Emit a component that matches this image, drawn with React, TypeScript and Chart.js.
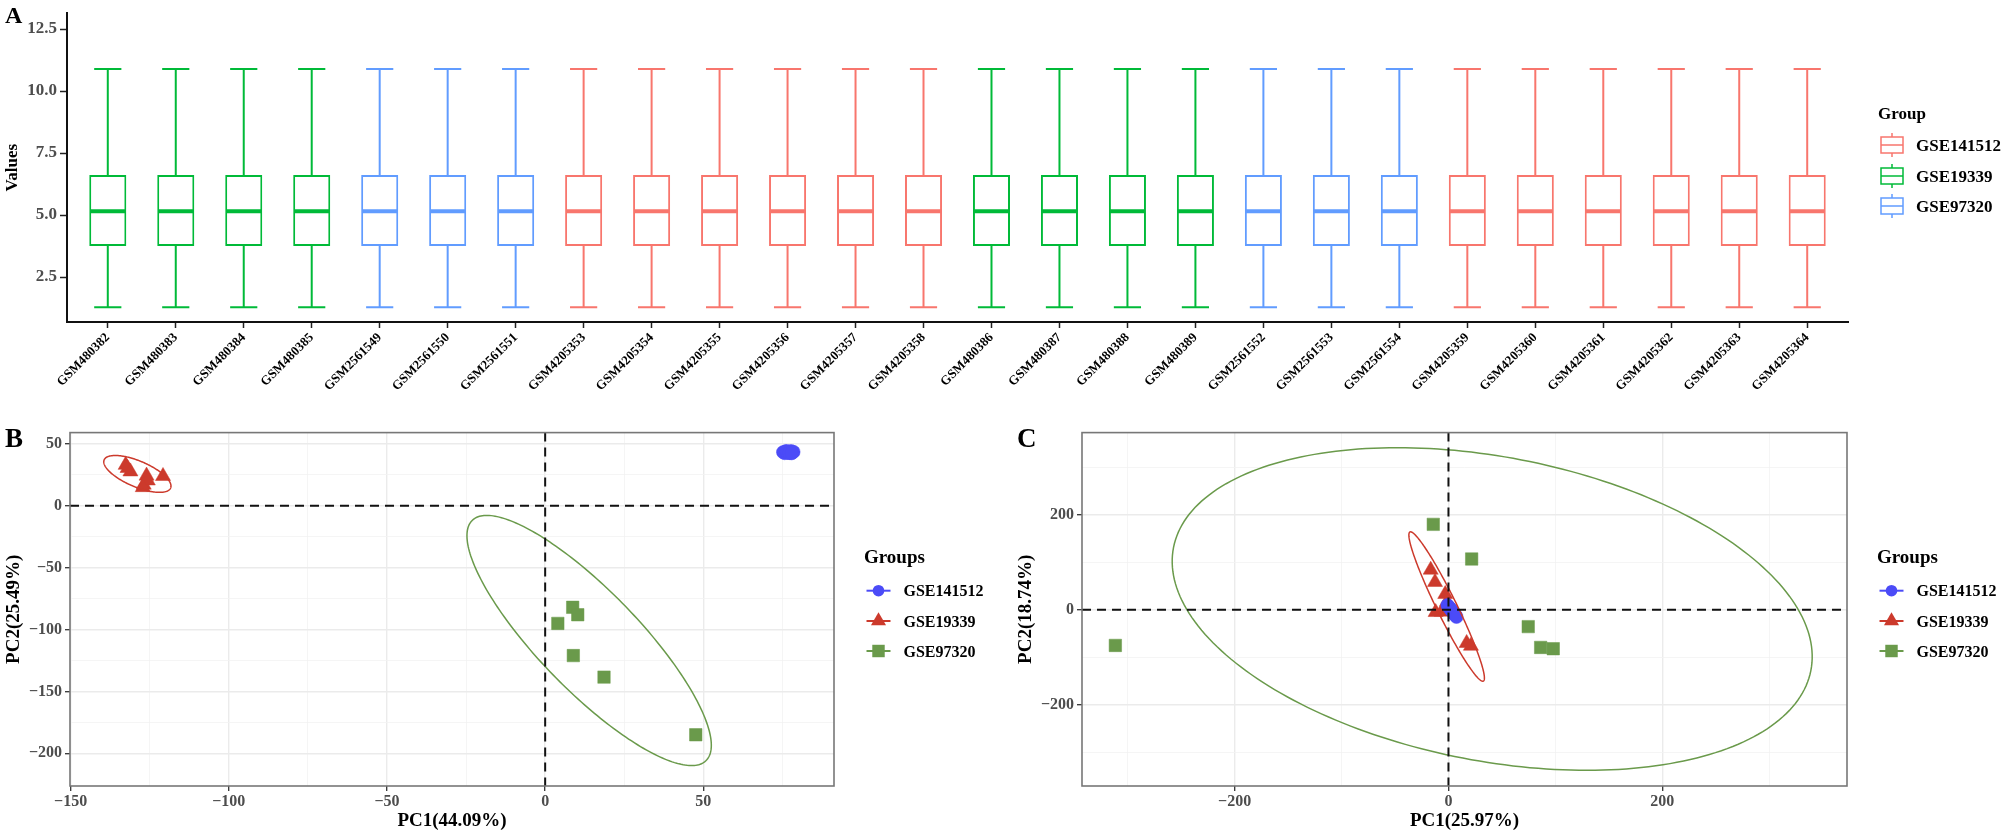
import React, { useEffect, useRef } from 'react';
import { Chart, registerables } from 'chart.js';

Chart.register(...registerables);

const SERIF = '"Liberation Serif", "Times New Roman", "DejaVu Serif", serif';

// ---------------- Panel A : box plots ----------------
const sampleLabels = [
  'GSM480382', 'GSM480383', 'GSM480384', 'GSM480385',
  'GSM2561549', 'GSM2561550', 'GSM2561551',
  'GSM4205353', 'GSM4205354', 'GSM4205355', 'GSM4205356', 'GSM4205357', 'GSM4205358',
  'GSM480386', 'GSM480387', 'GSM480388', 'GSM480389',
  'GSM2561552', 'GSM2561553', 'GSM2561554',
  'GSM4205359', 'GSM4205360', 'GSM4205361', 'GSM4205362', 'GSM4205363', 'GSM4205364',
];
const sampleGroups = [
  'GSE19339', 'GSE19339', 'GSE19339', 'GSE19339',
  'GSE97320', 'GSE97320', 'GSE97320',
  'GSE141512', 'GSE141512', 'GSE141512', 'GSE141512', 'GSE141512', 'GSE141512',
  'GSE19339', 'GSE19339', 'GSE19339', 'GSE19339',
  'GSE97320', 'GSE97320', 'GSE97320',
  'GSE141512', 'GSE141512', 'GSE141512', 'GSE141512', 'GSE141512', 'GSE141512',
];
const boxWhiskerLow = [1.28, 1.28, 1.28, 1.28, 1.28, 1.28, 1.28, 1.28, 1.28, 1.28, 1.28, 1.28, 1.28, 1.28, 1.28, 1.28, 1.28, 1.28, 1.28, 1.28, 1.28, 1.28, 1.28, 1.28, 1.28, 1.28];
const boxQ1 = [3.75, 3.75, 3.75, 3.75, 3.75, 3.75, 3.75, 3.75, 3.75, 3.75, 3.75, 3.75, 3.75, 3.75, 3.75, 3.75, 3.75, 3.75, 3.75, 3.75, 3.75, 3.75, 3.75, 3.75, 3.75, 3.75];
const boxMedian = [5.16, 5.16, 5.16, 5.16, 5.16, 5.16, 5.16, 5.16, 5.16, 5.16, 5.16, 5.16, 5.16, 5.16, 5.16, 5.16, 5.16, 5.16, 5.16, 5.16, 5.16, 5.16, 5.16, 5.16, 5.16, 5.16];
const boxQ3 = [6.62, 6.62, 6.62, 6.62, 6.62, 6.62, 6.62, 6.62, 6.62, 6.62, 6.62, 6.62, 6.62, 6.62, 6.62, 6.62, 6.62, 6.62, 6.62, 6.62, 6.62, 6.62, 6.62, 6.62, 6.62, 6.62];
const boxWhiskerHigh = [10.89, 10.89, 10.89, 10.89, 10.89, 10.89, 10.89, 10.89, 10.89, 10.89, 10.89, 10.89, 10.89, 10.89, 10.89, 10.89, 10.89, 10.89, 10.89, 10.89, 10.89, 10.89, 10.89, 10.89, 10.89, 10.89];
const valueTicks = [2.5, 5.0, 7.5, 10.0, 12.5];
const boxLegendGroups = ['GSE141512', 'GSE19339', 'GSE97320'];
const boxColors: Record<string, string> = { GSE141512: '#F8766D', GSE19339: '#00BA38', GSE97320: '#619CFF' };

// ---------------- Panels B & C : PCA ----------------
const pcaGroups = ['GSE141512', 'GSE19339', 'GSE97320'];
const pcaColors: Record<string, string> = { GSE141512: '#4B4BF7', GSE19339: '#CC3A2C', GSE97320: '#6A9A4B' };
const pcaShapes: Record<string, string> = { GSE141512: 'circle', GSE19339: 'triangle', GSE97320: 'rect' };
const pcaRadius: Record<string, number> = { circle: 6.6, triangle: 8.7, rect: 8.8 };

const pcaB_GSE141512_x = [75.2, 75.7, 76.1, 76.5, 76.9, 77.3, 77.7, 78.1, 78.5, 76.3, 77.1, 77.9];
const pcaB_GSE141512_y = [43.4, 42.6, 44.2, 43.0, 43.8, 42.7, 44.3, 43.2, 43.6, 44.0, 42.9, 42.5];
const pcaB_GSE19339_x = [-132.6, -132.0, -131.1, -126.0, -126.9, -125.6, -127.2, -120.8];
const pcaB_GSE19339_y = [33.0, 30.5, 27.7, 24.3, 17.0, 20.4, 15.0, 24.0];
const pcaB_GSE97320_x = [4.0, 8.7, 10.3, 8.9, 18.6, 47.6];
const pcaB_GSE97320_y = [-95, -82, -88, -121, -138.4, -185];

const pcaC_GSE141512_x = [-1.0, 0.0, 0.8, 1.5, 2.3, 3.0, 3.8, 4.5, 5.3, 6.0, 6.8, 7.5];
const pcaC_GSE141512_y = [10, 7, 5, 3, 0, -1, -3, -5, -8, -10, -12, -15];
const pcaC_GSE19339_x = [-16.6, -12.6, -3.0, -12.0, -6.4, -1.4, 17.0, 21.0];
const pcaC_GSE19339_y = [84.0, 58.3, 33.0, -5.0, -4.2, 16.7, -70.2, -76.0];
const pcaC_GSE97320_x = [-311.5, -14.2, 21.7, 74.6, 86.2, 98.0];
const pcaC_GSE97320_y = [-75, 179.8, 106.9, -35.4, -79.2, -81.9];

// ellipses: [centerX, centerY, axis1X, axis1Y, axis2X, axis2Y] in data units
const ellipseB_GSE19339 = [-128.9, 25.8, 10.5, -11.4, -1.61, -9.6];
const ellipseB_GSE97320 = [13.9, -108.8, 36.9, -97.2, -11.4, -27.8];
const ellipseC_GSE19339 = [-1.7, 6.9, 34.3, -156.9, -8.4, -9.1];
const ellipseC_GSE97320 = [40.9, 1.7, 298.0, -129.6, -27.4, -313.75];

const pcaB_xTicks = [-150, -100, -50, 0, 50];
const pcaB_xMinor = [-125, -75, -25, 25, 75];
const pcaB_yTicks = [-200, -150, -100, -50, 0, 50];
const pcaB_yMinor = [-175, -125, -75, -25, 25];
const pcaC_xTicks = [-200, 0, 200];
const pcaC_xMinor = [-300, -100, 100, 300];
const pcaC_yTicks = [-200, 0, 200];
const pcaC_yMinor = [-300, -100, 100, 300];

const fmtTick = (v: number) => (v < 0 ? '\u2212' + Math.abs(v) : String(v));

function drawMarker(ctx: CanvasRenderingContext2D, style: string, x: number, y: number, r: number, color: string) {
  ctx.fillStyle = color;
  ctx.beginPath();
  if (style === 'circle') {
    ctx.arc(x, y, r, 0, Math.PI * 2);
  } else if (style === 'triangle') {
    const w = (r * Math.sqrt(3)) / 2;
    ctx.moveTo(x, y - r);
    ctx.lineTo(x + w, y + r / 2);
    ctx.lineTo(x - w, y + r / 2);
    ctx.closePath();
  } else {
    const s = r * Math.SQRT1_2;
    ctx.rect(x - s, y - s, 2 * s, 2 * s);
  }
  ctx.fill();
}

function BoxPanel() {
  const ref = useRef<HTMLCanvasElement | null>(null);
  useEffect(() => {
    const canvas = ref.current;
    if (!canvas) return;
    const colors = sampleGroups.map((g) => boxColors[g]);
    const BOX_FRACTION = 0.545;
    const CAP_FRACTION = 0.4;
    const extras = {
      id: 'boxExtras',
      afterDatasetsDraw(chart: any) {
        const ctx = chart.ctx as CanvasRenderingContext2D;
        const xs = chart.scales.x;
        const ys = chart.scales.y;
        const unit = xs.getPixelForValue(1) - xs.getPixelForValue(0);
        const half = (unit * BOX_FRACTION) / 2;
        const capHalf = (unit * CAP_FRACTION) / 2;
        ctx.save();
        sampleLabels.forEach((_, i) => {
          const cx = xs.getPixelForValue(i);
          const yLo = ys.getPixelForValue(boxWhiskerLow[i]);
          const yQ1 = ys.getPixelForValue(boxQ1[i]);
          const yMed = ys.getPixelForValue(boxMedian[i]);
          const yQ3 = ys.getPixelForValue(boxQ3[i]);
          const yHi = ys.getPixelForValue(boxWhiskerHigh[i]);
          ctx.strokeStyle = colors[i];
          ctx.lineWidth = 2;
          ctx.beginPath();
          ctx.moveTo(cx, yQ3); ctx.lineTo(cx, yHi);
          ctx.moveTo(cx - capHalf, yHi); ctx.lineTo(cx + capHalf, yHi);
          ctx.moveTo(cx, yQ1); ctx.lineTo(cx, yLo);
          ctx.moveTo(cx - capHalf, yLo); ctx.lineTo(cx + capHalf, yLo);
          ctx.stroke();
          ctx.lineWidth = 4;
          ctx.beginPath();
          ctx.moveTo(cx - half + 1, yMed); ctx.lineTo(cx + half - 1, yMed);
          ctx.stroke();
        });
        ctx.restore();
      },
      afterDraw(chart: any) {
        const ctx = chart.ctx as CanvasRenderingContext2D;
        const right = chart.chartArea.right;
        ctx.save();
        ctx.fillStyle = '#000';
        ctx.textBaseline = 'alphabetic';
        ctx.textAlign = 'left';
        ctx.font = `bold 24px ${SERIF}`;
        ctx.fillText('A', 5, 23);
        ctx.font = `bold 17px ${SERIF}`;
        ctx.fillText('Group', right + 30, 119);
        const rows = [145, 176, 206];
        boxLegendGroups.forEach((g, k) => {
          const cx = right + 44;
          const cy = rows[k];
          const col = boxColors[g];
          ctx.strokeStyle = col;
          ctx.lineWidth = 1.5;
          ctx.fillStyle = '#fff';
          ctx.fillRect(cx - 11, cy - 8, 22, 16);
          ctx.strokeRect(cx - 11, cy - 8, 22, 16);
          ctx.beginPath();
          ctx.moveTo(cx - 11, cy); ctx.lineTo(cx + 11, cy);
          ctx.moveTo(cx, cy - 8); ctx.lineTo(cx, cy - 12);
          ctx.moveTo(cx, cy + 8); ctx.lineTo(cx, cy + 12);
          ctx.stroke();
          ctx.fillStyle = '#000';
          ctx.font = `bold 17px ${SERIF}`;
          ctx.fillText(g, right + 68, cy + 6.4);
        });
        ctx.restore();
      },
    };
    const chart = new Chart(canvas, {
      type: 'bar',
      data: {
        datasets: [
          {
            data: sampleLabels.map((_, i) => ({ x: i, y: [boxQ1[i], boxQ3[i]] })) as any,
            backgroundColor: '#ffffff',
            borderColor: colors,
            borderWidth: 2,
            borderSkipped: false,
            barPercentage: BOX_FRACTION,
            categoryPercentage: 1,
          } as any,
        ],
      },
      options: {
        responsive: false,
        animation: false,
        layout: { padding: { top: 7, right: 158, left: 0, bottom: 0 } },
        plugins: { legend: { display: false }, tooltip: { enabled: false }, title: { display: false } },
        scales: {
          x: {
            type: 'linear',
            min: -0.6,
            max: 25.6,
            offset: false,
            afterBuildTicks: (s: any) => { s.ticks = sampleLabels.map((_, i) => ({ value: i })); },
            afterFit: (s: any) => { s.height = 98; },
            grid: { display: true, drawOnChartArea: false, drawTicks: true, tickLength: 6, tickColor: '#222', tickWidth: 1.5, offset: false },
            border: { display: true, color: '#111', width: 2 },
            ticks: {
              autoSkip: false, maxRotation: 45, minRotation: 45, padding: 2, color: '#000',
              font: { family: SERIF, size: 13, weight: 'bold' },
              callback: (v: any) => sampleLabels[Number(v)] ?? '',
            },
          } as any,
          y: {
            type: 'linear',
            min: 0.69,
            max: 13.14,
            afterBuildTicks: (s: any) => { s.ticks = valueTicks.map((v) => ({ value: v })); },
            afterFit: (s: any) => { s.width = 67; },
            grid: { display: true, drawOnChartArea: false, drawTicks: true, tickLength: 7, tickColor: '#222', tickWidth: 1.5 },
            border: { display: true, color: '#111', width: 2 },
            ticks: {
              color: '#4D4D4D', padding: 3,
              font: { family: SERIF, size: 17, weight: 'bold' },
              callback: (v: any) => Number(v).toFixed(1),
            },
            title: {
              display: true, text: 'Values', color: '#000',
              font: { family: SERIF, size: 17, weight: 'bold' },
              padding: { top: 2, bottom: 0 },
            },
          } as any,
        },
      },
      plugins: [extras],
    });
    return () => chart.destroy();
  }, []);
  return (
    <canvas
      ref={ref}
      width={2006}
      height={420}
      style={{ position: 'absolute', left: 0, top: 0, width: 2006, height: 420, display: 'block' }}
    />
  );
}

type PcaSpec = {
  letter: string; letterX: number;
  left: number; top: number; width: number; height: number;
  padRight: number; yAxisWidth: number; yTitlePad: number;
  xMin: number; xMax: number; yMin: number; yMax: number;
  xMajor: number[]; xMinor: number[]; yMajor: number[]; yMinor: number[];
  xTitle: string; yTitle: string;
  points: Record<string, number[][]>;
  ellipses: [string, number[]][];
};

const specB: PcaSpec = {
  letter: 'B', letterX: 5,
  left: 0, top: 420, width: 1000, height: 414,
  padRight: 166, yAxisWidth: 70, yTitlePad: 2.6,
  xMin: -150.2, xMax: 91.3, yMin: -226.4, yMax: 59.2,
  xMajor: pcaB_xTicks, xMinor: pcaB_xMinor, yMajor: pcaB_yTicks, yMinor: pcaB_yMinor,
  xTitle: 'PC1(44.09%)', yTitle: 'PC2(25.49%)',
  points: {
    GSE141512: [pcaB_GSE141512_x, pcaB_GSE141512_y],
    GSE19339: [pcaB_GSE19339_x, pcaB_GSE19339_y],
    GSE97320: [pcaB_GSE97320_x, pcaB_GSE97320_y],
  },
  ellipses: [['GSE19339', ellipseB_GSE19339], ['GSE97320', ellipseB_GSE97320]],
};

const specC: PcaSpec = {
  letter: 'C', letterX: 17,
  left: 1000, top: 420, width: 1006, height: 414,
  padRight: 159, yAxisWidth: 82, yTitlePad: 15,
  xMin: -342.7, xMax: 372.7, yMin: -370.8, yMax: 372.9,
  xMajor: pcaC_xTicks, xMinor: pcaC_xMinor, yMajor: pcaC_yTicks, yMinor: pcaC_yMinor,
  xTitle: 'PC1(25.97%)', yTitle: 'PC2(18.74%)',
  points: {
    GSE141512: [pcaC_GSE141512_x, pcaC_GSE141512_y],
    GSE19339: [pcaC_GSE19339_x, pcaC_GSE19339_y],
    GSE97320: [pcaC_GSE97320_x, pcaC_GSE97320_y],
  },
  ellipses: [['GSE19339', ellipseC_GSE19339], ['GSE97320', ellipseC_GSE97320]],
};

function PcaPanel({ spec }: { spec: PcaSpec }) {
  const ref = useRef<HTMLCanvasElement | null>(null);
  useEffect(() => {
    const canvas = ref.current;
    if (!canvas) return;
    const gridOpts = (majors: number[]) => {
      const set = new Set(majors);
      const isMaj = (c: any) => !!(c && c.tick && set.has(c.tick.value));
      return {
        display: true, drawOnChartArea: true, drawTicks: true, tickLength: 5,
        color: (c: any) => (isMaj(c) ? '#EBEBEB' : '#F2F2F2'),
        lineWidth: (c: any) => (isMaj(c) ? 1.4 : 0.8),
        tickColor: (c: any) => (isMaj(c) ? '#333333' : 'rgba(0,0,0,0)'),
        tickWidth: 1.3,
      };
    };
    const tickFont = { family: SERIF, size: 16, weight: 'bold' };
    const titleFont = { family: SERIF, size: 19, weight: 'bold' };
    const extras = {
      id: 'pcaExtras',
      afterDatasetsDraw(chart: any) {
        const ctx = chart.ctx as CanvasRenderingContext2D;
        const xs = chart.scales.x;
        const ys = chart.scales.y;
        const ca = chart.chartArea;
        ctx.save();
        ctx.beginPath();
        ctx.rect(ca.left, ca.top, ca.right - ca.left, ca.bottom - ca.top);
        ctx.clip();
        // ellipses
        spec.ellipses.forEach(([g, e]) => {
          ctx.strokeStyle = pcaColors[g];
          ctx.lineWidth = 1.5;
          ctx.beginPath();
          for (let k = 0; k <= 240; k++) {
            const t = (k / 240) * Math.PI * 2;
            const vx = e[0] + e[2] * Math.cos(t) + e[4] * Math.sin(t);
            const vy = e[1] + e[3] * Math.cos(t) + e[5] * Math.sin(t);
            const px = xs.getPixelForValue(vx);
            const py = ys.getPixelForValue(vy);
            if (k === 0) ctx.moveTo(px, py); else ctx.lineTo(px, py);
          }
          ctx.closePath();
          ctx.stroke();
        });
        // zero reference lines
        ctx.strokeStyle = '#111';
        ctx.lineWidth = 2;
        ctx.setLineDash([9, 6]);
        const x0 = xs.getPixelForValue(0);
        const y0 = ys.getPixelForValue(0);
        ctx.beginPath();
        ctx.moveTo(ca.left, y0); ctx.lineTo(ca.right, y0);
        ctx.moveTo(x0, ca.top); ctx.lineTo(x0, ca.bottom);
        ctx.stroke();
        ctx.restore();
        // frame
        ctx.save();
        ctx.strokeStyle = '#777777';
        ctx.lineWidth = 1.6;
        ctx.strokeRect(ca.left, ca.top, ca.right - ca.left, ca.bottom - ca.top);
        ctx.restore();
      },
      afterDraw(chart: any) {
        const ctx = chart.ctx as CanvasRenderingContext2D;
        const right = chart.chartArea.right;
        ctx.save();
        ctx.fillStyle = '#000';
        ctx.textAlign = 'left';
        ctx.textBaseline = 'alphabetic';
        ctx.font = `bold 27px ${SERIF}`;
        ctx.fillText(spec.letter, spec.letterX, 27);
        ctx.font = `bold 19px ${SERIF}`;
        ctx.fillText('Groups', right + 30, 143);
        const rows = [170.7, 201, 231];
        pcaGroups.forEach((g, k) => {
          const cx = right + 44.5;
          const cy = rows[k];
          ctx.strokeStyle = pcaColors[g];
          ctx.lineWidth = 2;
          ctx.beginPath();
          ctx.moveTo(cx - 12, cy); ctx.lineTo(cx + 12, cy);
          ctx.stroke();
          const st = pcaShapes[g];
          drawMarker(ctx, st, cx, cy, st === 'circle' ? 5.8 : pcaRadius[st], pcaColors[g]);
          ctx.fillStyle = '#000';
          ctx.font = `bold 16px ${SERIF}`;
          ctx.fillText(g, right + 69.5, cy + 5.6);
        });
        ctx.restore();
      },
    };
    const chart = new Chart(canvas, {
      type: 'scatter',
      data: {
        datasets: pcaGroups.map((g) => {
          const [xsArr, ysArr] = spec.points[g];
          const st = pcaShapes[g];
          return {
            label: g,
            data: xsArr.map((vx, i) => ({ x: vx, y: ysArr[i] })),
            pointStyle: st,
            pointRadius: pcaRadius[st],
            pointBackgroundColor: pcaColors[g],
            pointBorderColor: pcaColors[g],
            pointBorderWidth: 0.5,
            showLine: false,
          } as any;
        }),
      },
      options: {
        responsive: false,
        animation: false,
        layout: { padding: { top: 9, right: spec.padRight, left: 0, bottom: 0 } },
        plugins: { legend: { display: false }, tooltip: { enabled: false }, title: { display: false } },
        scales: {
          x: {
            type: 'linear',
            min: spec.xMin,
            max: spec.xMax,
            afterBuildTicks: (s: any) => {
              s.ticks = [...spec.xMajor, ...spec.xMinor].sort((a, b) => a - b).map((v) => ({ value: v }));
            },
            afterFit: (s: any) => { s.height = 48; },
            grid: gridOpts(spec.xMajor),
            border: { display: false },
            ticks: {
              autoSkip: false, maxRotation: 0, minRotation: 0, padding: 1, color: '#4D4D4D',
              font: tickFont,
              callback: (v: any) => (spec.xMajor.includes(Number(v)) ? fmtTick(Number(v)) : ''),
            },
            title: { display: true, text: spec.xTitle, color: '#000', font: titleFont, padding: { top: 0, bottom: 1.6 } },
          } as any,
          y: {
            type: 'linear',
            min: spec.yMin,
            max: spec.yMax,
            afterBuildTicks: (s: any) => {
              s.ticks = [...spec.yMajor, ...spec.yMinor].sort((a, b) => a - b).map((v) => ({ value: v }));
            },
            afterFit: (s: any) => { s.width = spec.yAxisWidth; },
            grid: gridOpts(spec.yMajor),
            border: { display: false },
            ticks: {
              autoSkip: false, padding: 3, color: '#4D4D4D',
              font: tickFont,
              callback: (v: any) => (spec.yMajor.includes(Number(v)) ? fmtTick(Number(v)) : ''),
            },
            title: { display: true, text: spec.yTitle, color: '#000', font: titleFont, padding: { top: spec.yTitlePad, bottom: 0 } },
          } as any,
        },
      },
      plugins: [extras],
    });
    return () => chart.destroy();
  }, [spec]);
  return (
    <canvas
      ref={ref}
      width={spec.width}
      height={spec.height}
      style={{ position: 'absolute', left: spec.left, top: spec.top, width: spec.width, height: spec.height, display: 'block' }}
    />
  );
}

export default function App() {
  return (
    <div style={{ position: 'absolute', left: 0, top: 0, width: 2006, height: 834, background: '#ffffff', overflow: 'hidden' }}>
      <BoxPanel />
      <PcaPanel spec={specB} />
      <PcaPanel spec={specC} />
    </div>
  );
}
